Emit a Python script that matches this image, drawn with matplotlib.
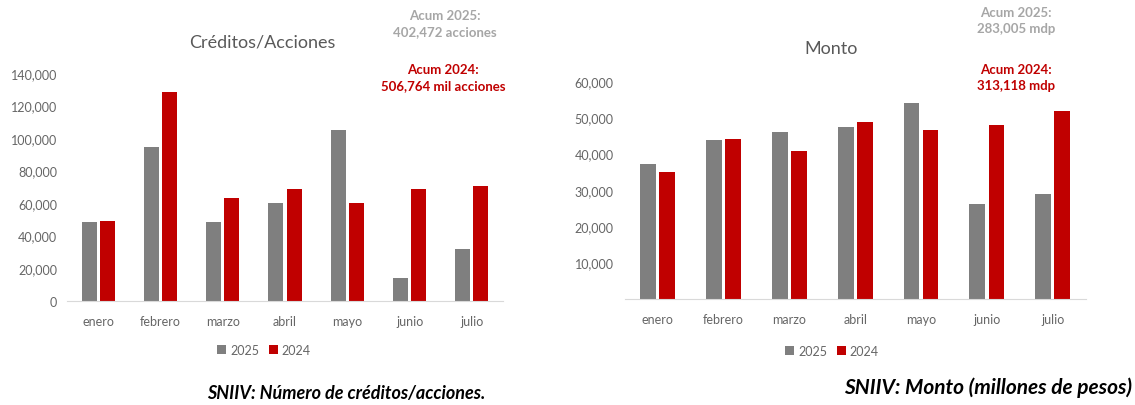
import matplotlib.pyplot as plt
import numpy as np

plt.rcParams['font.family'] = ['Lato', 'DejaVu Sans']

meses = ['enero', 'febrero', 'marzo', 'abril', 'mayo', 'junio', 'julio']

# Créditos/Acciones
creditos_2025 = [48500, 94300, 48500, 59900, 105000, 14000, 32000]
creditos_2024 = [48800, 128100, 63300, 68700, 60100, 68700, 70700]

# Monto (millones de pesos)
monto_2025 = [37160, 43600, 45800, 47260, 53780, 25980, 28900]
monto_2024 = [34960, 44040, 40740, 48640, 46430, 47730, 51580]

gris = '#7f7f7f'
rojo = '#c00000'
texto = '#666666'

fig = plt.figure(figsize=(11.35, 4.06), dpi=100)
W, H = 1135, 406


def pos(x0, x1, ytop, ybot):
    return [x0 / W, (H - ybot) / H, (x1 - x0) / W, (ybot - ytop) / H]


def panel(rect, v25, v24, ymax, step, ypad):
    ax = fig.add_axes(rect)
    x = np.arange(len(meses))
    w = 0.24
    ax.bar(x - 0.145, v25, w, color=gris, label='2025')
    ax.bar(x + 0.145, v24, w, color=rojo, label='2024')
    ax.set_xlim(-0.5, len(meses) - 0.5)
    ax.set_ylim(0, ymax)
    ax.set_yticks(np.arange(0, ymax + 1, step))
    ax.yaxis.set_major_formatter(plt.FuncFormatter(lambda v, p: '{:,.0f}'.format(v)))
    ax.set_xticks(x)
    ax.set_xticklabels(meses)
    for s in ['top', 'right', 'left']:
        ax.spines[s].set_visible(False)
    ax.spines['bottom'].set_color('#d9d9d9')
    ax.tick_params(axis='both', length=0, labelsize=9, colors=texto)
    ax.tick_params(axis='y', pad=ypad)
    ax.tick_params(axis='x', pad=10)
    return ax


ax1 = panel(pos(67, 503, 74, 301.7), creditos_2025, creditos_2024, 140000, 20000, 7)
ax2 = panel(pos(624.8, 1085.6, 81.7, 299.7), monto_2025, monto_2024, 60000, 10000, 8)
ax2.set_yticks(np.arange(10000, 60001, 10000))

for ax, cx, cy in [(ax1, 264, 351), (ax2, 832, 352)]:
    h, l = ax.get_legend_handles_labels()
    fig.legend(h, l, loc='center', bbox_to_anchor=(cx / W, 1 - cy / H), ncol=2,
               frameon=False, fontsize=9, handlelength=0.7, handleheight=0.7,
               handletextpad=0.3, columnspacing=0.8, labelcolor=texto)

# titulos
fig.text(262 / W, 1 - 43 / H, 'Créditos/Acciones', ha='center', va='center', fontsize=13, color='#595959')
fig.text(831 / W, 1 - 49 / H, 'Monto', ha='center', va='center', fontsize=13, color='#595959')

# acumulados
acum_gris = '#a6a6a6'
fig.text(445 / W, 1 - 24 / H, 'Acum 2025:\n402,472 acciones', ha='center', va='center',
         fontsize=9.5, fontweight='bold', color=acum_gris, linespacing=1.45)
fig.text(443 / W, 1 - 78 / H, 'Acum 2024:\n506,764 mil acciones', ha='center', va='center',
         fontsize=9.5, fontweight='bold', color=rojo, linespacing=1.45)
fig.text(1016 / W, 1 - 21 / H, 'Acum 2025:\n283,005 mdp', ha='center', va='center',
         fontsize=9.5, fontweight='bold', color=acum_gris, linespacing=1.45)
fig.text(1016 / W, 1 - 78 / H, 'Acum 2024:\n313,118 mdp', ha='center', va='center',
         fontsize=9.5, fontweight='bold', color=rojo, linespacing=1.45)

# fuentes
fig.text(207 / W, 1 - 394 / H, 'SNIIV: Número de créditos/acciones.', ha='left', va='center',
         fontsize=13, fontweight='bold', fontstyle='italic', color='black')
fig.text(1132 / W, 1 - 388 / H, 'SNIIV: Monto (millones de pesos)', ha='right', va='center',
         fontsize=15, fontweight='bold', fontstyle='italic', color='black')

plt.savefig('out.png', dpi=100)
